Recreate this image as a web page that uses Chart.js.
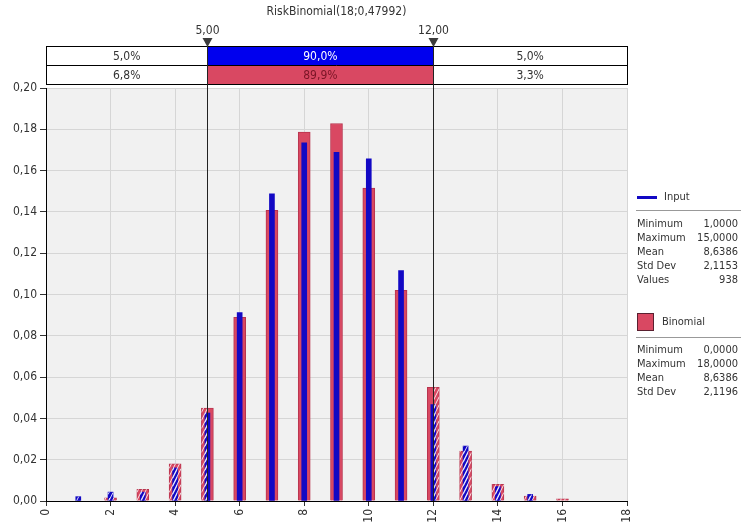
<!DOCTYPE html>
<html>
<head>
<meta charset="utf-8">
<script src="https://cdn.jsdelivr.net/npm/chart.js@4.4.0/dist/chart.umd.min.js"></script>
<style>
  html, body { margin: 0; padding: 0; background: #fff; }
</style>
</head>
<body>
<canvas id="place__graph" width="741" height="530"></canvas>
<script>
// values (null = no bar drawn)
const titleText = 'RiskBinomial(18;0,47992)'
const xValues = [0, 1, 2, 3, 4, 5, 6, 7, 8, 9, 10, 11, 12, 13, 14, 15, 16, 17, 18]
const binomialValues = [null, null, 0.0015, 0.0057, 0.0180, 0.0450, 0.0889, 0.1407, 0.1786, 0.1828, 0.1515, 0.1020, 0.0550, 0.0242, 0.0081, 0.0024, 0.0011, null, null]
const inputValues = [null, 0.0021, 0.0043, 0.0043, 0.0160, 0.0426, 0.0913, 0.1488, 0.1734, 0.1689, 0.1657, 0.1116, 0.0467, 0.0266, 0.0070, 0.0032, null, null, null]

const markerValues = [5, 12]
const markerLabels = ['5,00', '12,00']
const inputPercents = ['5,0%', '90,0%', '5,0%']
const binomialPercents = ['6,8%', '89,9%', '3,3%']

const statLabels = ['Minimum', 'Maximum', 'Mean', 'Std Dev', 'Values']
const inputStats = ['1,0000', '15,0000', '8,6386', '2,1153', '938']
const binomialStats = ['0,0000', '18,0000', '8,6386', '2,1196']

const FONT = "'DejaVu Sans Condensed', 'DejaVu Sans', sans-serif"
const BLUE = '#1208c4'
const RED = '#d94862'

const decor = {
    id: 'decor',
    beforeDraw(chart) {
        const { ctx, chartArea: a } = chart
        ctx.save()
        ctx.fillStyle = '#fff'
        ctx.fillRect(0, 0, chart.width, chart.height)
        ctx.fillStyle = '#f1f1f1'
        ctx.fillRect(a.left, a.top, a.right - a.left, a.bottom - a.top)
        ctx.restore()
    },
    afterDatasetsDraw(chart) {
        // white hatching on the parts of the bars outside the 5..12 band
        const { ctx } = chart
        const xs = chart.scales.x
        const lo = xs.getPixelForValue(markerValues[0])
        const hi = xs.getPixelForValue(markerValues[1])
        chart.data.datasets.forEach((ds, i) => {
            chart.getDatasetMeta(i).data.forEach(bar => {
                const p = bar.getProps(['x', 'y', 'base', 'width'], true)
                if (!isFinite(p.y) || !isFinite(p.base)) return
                const l = p.x - p.width / 2, r = p.x + p.width / 2
                const t = Math.min(p.y, p.base), b = Math.max(p.y, p.base)
                if (b - t < 1) return
                ctx.save()
                ctx.beginPath()
                ctx.rect(l, t, Math.max(0, Math.min(r, lo) - l), b - t)
                ctx.rect(Math.max(l, hi), t, Math.max(0, r - Math.max(l, hi)), b - t)
                ctx.clip()
                ctx.strokeStyle = 'rgba(255,255,255,0.85)'
                ctx.lineWidth = 1
                ctx.beginPath()
                const w = r - l
                for (let k = b + 2 * w; k > t - 2; k -= 8) {
                    ctx.moveTo(l, k)
                    ctx.lineTo(r, k - 2 * w)
                }
                ctx.stroke()
                ctx.restore()
            })
        })
    },
    afterDraw(chart) {
        const { ctx, chartArea: a } = chart
        const xs = chart.scales.x
        const lo = xs.getPixelForValue(markerValues[0])
        const hi = xs.getPixelForValue(markerValues[1])
        ctx.save()
        ctx.textAlign = 'center'
        ctx.textBaseline = 'middle'

        // title
        ctx.font = '12px ' + FONT
        ctx.fillStyle = '#333'
        ctx.fillText(titleText, (a.left + a.right) / 2, 12)

        // table
        const tTop = 46, rowH = 19
        const cols = [a.left, lo, hi, a.right]
        const rows = [
            { fills: ['#fff', '#0000ee', '#fff'], texts: inputPercents, colors: ['#333', '#fff', '#333'] },
            { fills: ['#fff', RED, '#fff'], texts: binomialPercents, colors: ['#333', '#7a1526', '#333'] }
        ]
        rows.forEach((row, ri) => {
            const y = tTop + ri * rowH
            for (let c = 0; c < 3; c++) {
                ctx.fillStyle = row.fills[c]
                ctx.fillRect(cols[c], y, cols[c + 1] - cols[c], rowH)
                ctx.fillStyle = row.colors[c]
                ctx.fillText(row.texts[c], (cols[c] + cols[c + 1]) / 2, y + rowH / 2 + 1)
            }
        })
        ctx.strokeStyle = '#000'
        ctx.lineWidth = 1
        ctx.strokeRect(a.left + 0.5, tTop + 0.5, a.right - a.left, rowH * 2)
        ctx.beginPath()
        ctx.moveTo(a.left, tTop + rowH + 0.5)
        ctx.lineTo(a.right, tTop + rowH + 0.5)
        ctx.stroke()

        // marker lines, triangles and labels
        markerValues.forEach((v, i) => {
            const px = Math.round(xs.getPixelForValue(v)) + 0.5
            ctx.strokeStyle = '#222'
            ctx.beginPath()
            ctx.moveTo(px, tTop)
            ctx.lineTo(px, a.bottom)
            ctx.stroke()
            ctx.fillStyle = '#3c3c3c'
            ctx.beginPath()
            ctx.moveTo(px - 5, 38)
            ctx.lineTo(px + 5, 38)
            ctx.lineTo(px, 47)
            ctx.closePath()
            ctx.fill()
            ctx.fillStyle = '#333'
            ctx.fillText(markerLabels[i], px, 31)
        })

        // legend panel on the right
        const lx = 637, rx = 738
        ctx.font = '11px ' + FONT
        ctx.textAlign = 'left'
        ctx.fillStyle = BLUE
        ctx.fillRect(lx, 196, 20, 3)
        ctx.fillStyle = '#333'
        ctx.fillText('Input', 664, 197)
        ctx.strokeStyle = '#999'
        ctx.beginPath()
        ctx.moveTo(lx - 1, 210.5)
        ctx.lineTo(741, 210.5)
        ctx.stroke()
        inputStats.forEach((s, i) => {
            const y = 224 + i * 14
            ctx.textAlign = 'left'
            ctx.fillText(statLabels[i], lx, y)
            ctx.textAlign = 'right'
            ctx.fillText(s, rx, y)
        })

        ctx.fillStyle = RED
        ctx.fillRect(lx, 313, 16, 17)
        ctx.strokeStyle = '#5a2030'
        ctx.strokeRect(lx + 0.5, 313.5, 16, 17)
        ctx.fillStyle = '#333'
        ctx.textAlign = 'left'
        ctx.fillText('Binomial', 662, 322)
        ctx.strokeStyle = '#999'
        ctx.beginPath()
        ctx.moveTo(lx - 1, 337.5)
        ctx.lineTo(741, 337.5)
        ctx.stroke()
        binomialStats.forEach((s, i) => {
            const y = 350 + i * 14
            ctx.textAlign = 'left'
            ctx.fillText(statLabels[i], lx, y)
            ctx.textAlign = 'right'
            ctx.fillText(s, rx, y)
        })
        ctx.restore()
    }
}

const ctx = document.getElementById('place__graph').getContext('2d')
const chart = new Chart(ctx, {
    type: 'bar',
    data: {
        datasets: [
            {
                label: 'Input',
                data: xValues.map((x, i) => ({ x: x, y: inputValues[i] })),
                backgroundColor: BLUE,
                barThickness: 5,
                grouped: false,
                order: 0
            },
            {
                label: 'Binomial',
                data: xValues.map((x, i) => ({ x: x, y: binomialValues[i] })),
                backgroundColor: RED,
                borderColor: '#b8344e',
                borderWidth: 1,
                barThickness: 12,
                grouped: false,
                order: 1
            }
        ]
    },
    options: {
        responsive: false,
        animation: false,
        devicePixelRatio: 1,
        layout: { padding: { top: 88, right: 114, left: 0, bottom: 0 } },
        plugins: { legend: { display: false }, tooltip: { enabled: false } },
        scales: {
            x: {
                type: 'linear',
                min: 0,
                max: 18,
                offset: false,
                ticks: {
                    stepSize: 2,
                    minRotation: 90,
                    maxRotation: 90,
                    color: '#333',
                    padding: 3,
                    font: { family: FONT, size: 12 }
                },
                grid: { offset: false, color: '#d6d6d6', tickColor: '#333', tickLength: 5 },
                border: { color: '#000' },
                afterFit(s) { s.height = 29 }
            },
            y: {
                min: 0,
                max: 0.2,
                ticks: {
                    stepSize: 0.02,
                    color: '#333',
                    padding: 3,
                    font: { family: FONT, size: 12 },
                    callback: v => v.toFixed(2).replace('.', ',')
                },
                grid: { color: '#d6d6d6', tickColor: '#333', tickLength: 6 },
                border: { color: '#000' },
                afterFit(s) { s.width = 46 }
            }
        }
    },
    plugins: [decor]
})
</script>
</body>
</html>
